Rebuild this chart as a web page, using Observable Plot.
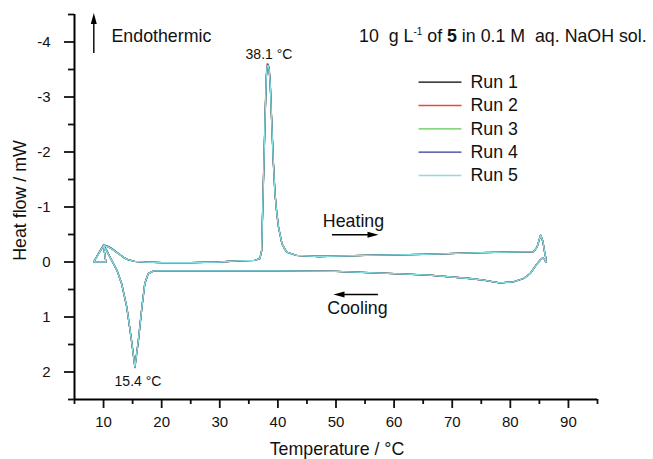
<!DOCTYPE html>
<html><head><meta charset="utf-8">
<script src="https://cdn.jsdelivr.net/npm/d3@7"></script>
<script src="https://cdn.jsdelivr.net/npm/@observablehq/plot@0.6"></script>
<style>
html,body{margin:0;padding:0;background:#fff;}
#chart svg{display:block;}
</style></head><body><div id="chart"></div>
<script>
// ---------- data ----------
const runs = ["Run 1", "Run 2", "Run 3", "Run 4", "Run 5"];
const runColors = ["#000000", "#e8483e", "#62c957", "#2a3c9e", "#86dede"];

// heating scan (temperature, °C)
const heatT = [8.3, 9.2, 10.0, 10.7, 11.4, 12.6, 13.5, 14.3, 15.4, 17.0, 20.0, 25.0, 30.0, 33.0, 36.0, 36.9, 37.2, 37.5, 37.8, 38.0, 38.15, 38.3, 38.5, 38.7, 38.9, 39.2, 39.5, 39.8, 40.1, 40.7, 41.5, 43.2, 47.0, 55.0, 65.0, 75.0, 84.0, 84.6, 85.2, 85.6, 85.9, 86.1];
// heat flow, mW
const heatRun1 = [0.00, -0.16, -0.29, -0.28, -0.24, -0.15, -0.08, -0.04, -0.01, 0.00, 0.01, 0.01, 0.00, -0.02, -0.03, -0.06, -0.20, -1.42, -2.62, -3.34, -3.54, -3.56, -3.49, -3.19, -2.63, -1.85, -1.24, -0.90, -0.64, -0.33, -0.18, -0.12, -0.10, -0.12, -0.14, -0.17, -0.19, -0.27, -0.48, -0.37, -0.18, -0.08];
const heatRun2 = [0.00, -0.16, -0.30, -0.28, -0.24, -0.15, -0.08, -0.04, -0.01, 0.00, 0.01, 0.01, 0.00, -0.02, -0.03, -0.06, -0.22, -1.46, -2.68, -3.40, -3.60, -3.59, -3.50, -3.19, -2.63, -1.84, -1.24, -0.90, -0.64, -0.33, -0.18, -0.12, -0.10, -0.12, -0.14, -0.17, -0.19, -0.27, -0.49, -0.38, -0.18, -0.08];
const heatRun3 = [0.00, -0.16, -0.30, -0.28, -0.24, -0.15, -0.08, -0.04, -0.01, 0.00, 0.01, 0.01, 0.00, -0.02, -0.03, -0.06, -0.21, -1.43, -2.64, -3.36, -3.56, -3.57, -3.50, -3.20, -2.64, -1.85, -1.24, -0.90, -0.64, -0.33, -0.18, -0.12, -0.10, -0.12, -0.14, -0.17, -0.19, -0.27, -0.49, -0.38, -0.18, -0.08];
const heatRun4 = [0.00, -0.17, -0.31, -0.29, -0.25, -0.15, -0.08, -0.04, -0.01, 0.00, 0.01, 0.01, 0.00, -0.02, -0.03, -0.06, -0.20, -1.40, -2.62, -3.35, -3.56, -3.60, -3.53, -3.22, -2.66, -1.86, -1.25, -0.90, -0.64, -0.33, -0.18, -0.12, -0.10, -0.12, -0.14, -0.17, -0.19, -0.27, -0.49, -0.38, -0.18, -0.08];
const heatRun5 = [0.00, -0.16, -0.30, -0.28, -0.24, -0.15, -0.08, -0.04, -0.01, 0.00, 0.01, 0.01, 0.00, -0.02, -0.03, -0.06, -0.21, -1.43, -2.64, -3.36, -3.56, -3.58, -3.50, -3.20, -2.64, -1.85, -1.24, -0.90, -0.64, -0.33, -0.18, -0.12, -0.10, -0.12, -0.14, -0.17, -0.19, -0.27, -0.49, -0.38, -0.18, -0.08];

// cooling scan (temperature, °C)
const coolT = [86.1, 85.9, 85.6, 85.2, 84.6, 83.4, 82.3, 80.5, 78.2, 77.1, 75.4, 73.0, 66.0, 60.0, 50.0, 40.0, 30.0, 20.0, 18.6, 17.7, 17.1, 16.6, 16.0, 15.4, 14.8, 14.0, 13.1, 12.3, 11.4, 10.5, 10.0, 10.4, 8.3];
const coolRun1 = [0.00, -0.05, -0.08, -0.04, 0.03, 0.21, 0.30, 0.36, 0.38, 0.36, 0.33, 0.30, 0.24, 0.21, 0.17, 0.16, 0.16, 0.16, 0.16, 0.21, 0.39, 0.82, 1.42, 1.90, 1.42, 0.82, 0.39, 0.15, -0.03, -0.21, -0.29, 0.00, 0.00];
const coolRun2 = [0.00, -0.05, -0.08, -0.04, 0.03, 0.21, 0.30, 0.36, 0.38, 0.36, 0.33, 0.30, 0.24, 0.21, 0.17, 0.16, 0.16, 0.16, 0.16, 0.21, 0.39, 0.82, 1.42, 1.91, 1.42, 0.82, 0.39, 0.15, -0.03, -0.21, -0.29, 0.00, 0.00];
const coolRun3 = [0.00, -0.05, -0.08, -0.04, 0.03, 0.21, 0.30, 0.36, 0.38, 0.36, 0.33, 0.30, 0.24, 0.21, 0.17, 0.16, 0.16, 0.16, 0.16, 0.21, 0.39, 0.82, 1.42, 1.91, 1.42, 0.82, 0.39, 0.15, -0.03, -0.21, -0.29, 0.00, 0.00];
const coolRun4 = [0.00, -0.05, -0.08, -0.04, 0.03, 0.21, 0.30, 0.36, 0.38, 0.36, 0.33, 0.30, 0.24, 0.21, 0.17, 0.16, 0.16, 0.16, 0.16, 0.21, 0.39, 0.82, 1.42, 1.92, 1.42, 0.82, 0.39, 0.15, -0.03, -0.22, -0.30, 0.00, 0.00];
const coolRun5 = [0.00, -0.05, -0.08, -0.04, 0.03, 0.21, 0.30, 0.36, 0.38, 0.36, 0.33, 0.30, 0.24, 0.21, 0.17, 0.16, 0.16, 0.16, 0.16, 0.21, 0.39, 0.82, 1.42, 1.91, 1.42, 0.82, 0.39, 0.15, -0.03, -0.21, -0.29, 0.00, 0.00];

// axis ticks
const xTicks = [10, 20, 30, 40, 50, 60, 70, 80, 90];
const xMinorTicks = [5, 15, 25, 35, 45, 55, 65, 75, 85, 95];
const yTicks = [-4, -3, -2, -1, 0, 1, 2];
const yMinorTicks = [-4.5, -3.5, -2.5, -1.5, -0.5, 0.5, 1.5, 2.5];

// ---------- layout ----------
const W = 653, H = 459;
const mL = 74, mR = 56, mT = 14, mB = 60;
const xDom = [5, 95], yDom = [-4.5, 2.5];
const FONT = "'Liberation Sans', Arial, Helvetica, sans-serif";
// pixel -> data helpers for annotation placement
const px2x = p => xDom[0] + (p - mL) * (xDom[1] - xDom[0]) / (W - mR - mL);
const py2y = p => yDom[0] + (p - mT) * (yDom[1] - yDom[0]) / (H - mB - mT);

const heatVals = [heatRun1, heatRun2, heatRun3, heatRun4, heatRun5];
const coolVals = [coolRun1, coolRun2, coolRun3, coolRun4, coolRun5];
const rows = runs.flatMap((r, i) => [
  ...heatT.map((t, j) => ({run: r, T: t, v: heatVals[i][j]})),
  ...coolT.map((t, j) => ({run: r, T: t, v: coolVals[i][j]}))
]);

const legendPY = [81.7, 105, 128.3, 151.6, 175];
const legendRows = runs.map((r, i) => ({run: r, y: py2y(legendPY[i])}));

const headR = {draw(c) { c.moveTo(0, 0); c.lineTo(-11, -3); c.lineTo(-11, 3); c.closePath(); }};
const headL = {draw(c) { c.moveTo(0, 0); c.lineTo(11, -3); c.lineTo(11, 3); c.closePath(); }};
const headU = {draw(c) { c.moveTo(0, 0); c.lineTo(-3, 11); c.lineTo(3, 11); c.closePath(); }};

const plot = Plot.plot({
  width: W, height: H,
  marginLeft: mL, marginRight: mR, marginTop: mT, marginBottom: mB,
  style: {fontFamily: FONT, background: "#fff", color: "#111"},
  x: {domain: xDom},
  y: {domain: yDom, reverse: true},
  color: {domain: runs, range: runColors},
  marks: [
    // minor & major ticks
    Plot.axisX({ticks: xMinorTicks, tickSize: 5, strokeWidth: 1.8, tickFormat: () => "", label: null}),
    Plot.axisX({ticks: xTicks, tickSize: 9, tickPadding: 8, strokeWidth: 1.8, fontSize: 15, tickFormat: d => String(d), label: null}),
    Plot.axisY({ticks: yMinorTicks, tickSize: 6, strokeWidth: 1.8, tickFormat: () => "", label: null}),
    Plot.axisY({ticks: yTicks, tickSize: 10, tickPadding: 14, strokeWidth: 1.8, fontSize: 15, tickFormat: d => String(d), label: null}),
    Plot.ruleY([yDom[1]], {stroke: "#000", strokeWidth: 2}),
    Plot.ruleX([xDom[0]], {stroke: "#000", strokeWidth: 2}),
    // curves
    Plot.line(rows, {x: "T", y: "v", z: "run", stroke: "run", strokeWidth: 1.3}),
    // legend
    Plot.link(legendRows, {x1: px2x(418), x2: px2x(461), y1: "y", y2: "y", stroke: "run", strokeWidth: 1.3}),
    Plot.text(legendRows, {x: px2x(470), y: "y", text: "run", textAnchor: "start", lineAnchor: "middle", fontSize: 17.8, fill: "#111"}),
    // peak labels
    Plot.text(["38.1 °C"], {x: px2x(268.5), y: py2y(58.3), text: d => d, textAnchor: "middle", lineAnchor: "bottom", fontSize: 14, fill: "#111"}),
    Plot.text(["15.4 °C"], {x: px2x(137.5), y: py2y(385), text: d => d, textAnchor: "middle", lineAnchor: "bottom", fontSize: 14, fill: "#111"}),
    // annotations
    Plot.text(["Endothermic"], {x: px2x(111), y: py2y(41.7), text: d => d, textAnchor: "start", lineAnchor: "bottom", fontSize: 17.8, fill: "#111"}),
    Plot.text(["Heating"], {x: px2x(353), y: py2y(226), text: d => d, textAnchor: "middle", lineAnchor: "bottom", fontSize: 17.8, fill: "#111"}),
    Plot.text(["Cooling"], {x: px2x(357), y: py2y(313.3), text: d => d, textAnchor: "middle", lineAnchor: "bottom", fontSize: 17.8, fill: "#111"}),
    Plot.link([0], {x1: px2x(331.5), x2: px2x(368), y1: py2y(234.3), y2: py2y(234.3), stroke: "#000", strokeWidth: 1.4}),
    Plot.dot([0], {x: px2x(378), y: py2y(234.3), symbol: headR, fill: "#000", stroke: "none"}),
    Plot.link([0], {x1: px2x(343), x2: px2x(377.5), y1: py2y(294), y2: py2y(294), stroke: "#000", strokeWidth: 1.4}),
    Plot.dot([0], {x: px2x(333), y: py2y(294), symbol: headL, fill: "#000", stroke: "none"}),
    Plot.link([0], {x1: px2x(93.3), x2: px2x(93.3), y1: py2y(52.5), y2: py2y(22), stroke: "#000", strokeWidth: 1.4}),
    Plot.dot([0], {x: px2x(93.3), y: py2y(12.5), symbol: headU, fill: "#000", stroke: "none"}),
    // axis titles
    Plot.text(["Temperature / °C"], {x: px2x(336.5), y: py2y(454.5), text: d => d, textAnchor: "middle", lineAnchor: "bottom", fontSize: 17.8, fill: "#111"}),
    Plot.text(["Heat flow / mW"], {x: px2x(25.5), y: py2y(200), text: d => d, rotate: -90, textAnchor: "middle", lineAnchor: "bottom", fontSize: 17.8, fill: "#111"})
  ]
});

// title with superscript / bold parts
const svg = d3.select(plot);
const t = svg.append("text")
  .attr("x", 359).attr("y", 41.7)
  .attr("text-anchor", "start")
  .attr("font-family", FONT).attr("font-size", 17.8).attr("fill", "#111")
  .style("white-space", "pre");
t.append("tspan").text("10  g L");
t.append("tspan").attr("font-size", 10).attr("dy", -7).text("-1");
t.append("tspan").attr("dy", 7).text(" of ");
t.append("tspan").attr("font-weight", "bold").text("5");
t.append("tspan").text(" in 0.1 M  aq. NaOH sol.");

document.getElementById("chart").appendChild(plot);
</script>
</body></html>
